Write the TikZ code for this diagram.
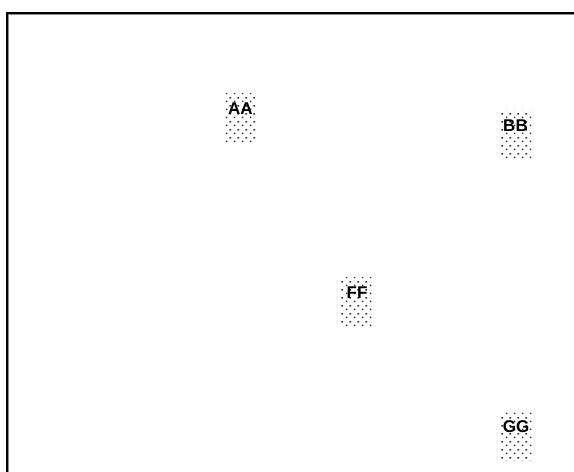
\documentclass[tikz,border=0pt]{standalone}
\usepackage{fontspec}
\setmainfont{Liberation Sans}
\usetikzlibrary{patterns.meta}

\tikzdeclarepattern{
  name=stipple, type=uncolored,
  bottom left={(0pt,0pt)}, top right={(8pt,8pt)},
  tile size={(8pt,8pt)},
  code={
    \fill (2pt,2pt) rectangle (3.7pt,3.7pt);
    \fill (6pt,6pt) rectangle (7.7pt,7.7pt);
  }
}

\tikzset{
  cell/.style={rectangle, inner sep=0pt, minimum width=32pt,
    text height=21pt, text depth=28pt,
    pattern=stipple, pattern color=black!80,
    font=\fontsize{17}{17}\selectfont\bfseries}
}

\begin{document}
\begin{tikzpicture}[x=1pt,y=-1pt,line width=2pt]
\useasboundingbox (0,0) rectangle (574,472);
% ---------- frame ----------
\draw[black!45,line width=1pt] (8.5,474) -- (8.5,14.5) -- (576,14.5);
\draw (7,474) -- (7,13) -- (576,13);
% ---------- cells ----------
\node[cell] (aa) at (240.5,118) {AA};
\node[cell] (bb) at (515.5,135) {BB};
\node[cell] (ff) at (357,302) {FF};
\node[cell] (gg) at (516,436) {GG};
\end{tikzpicture}
\end{document}
